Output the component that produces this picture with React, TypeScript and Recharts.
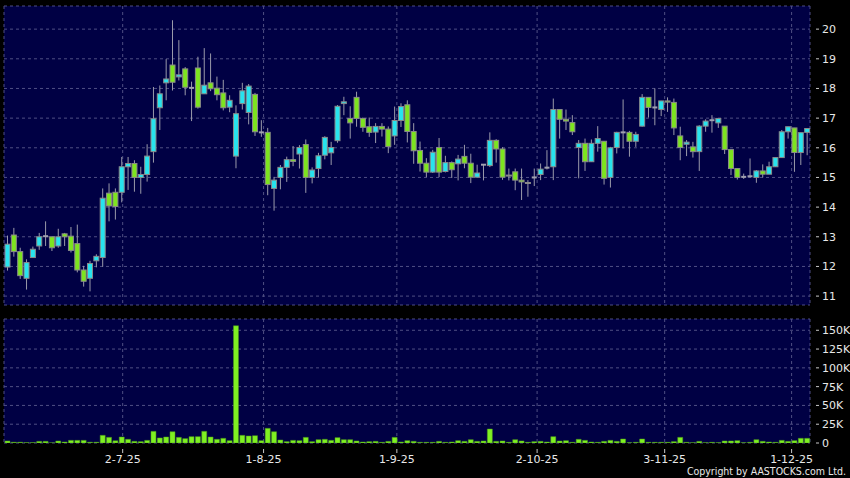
import { ComposedChart, Bar, XAxis, YAxis, CartesianGrid } from 'recharts'

// price data, one entry per trading day (Jun 5 - Dec 3 2025)
const opens = [
  11.98, 13.06, 12.5, 11.6, 12.3, 12.69, 13.02, 13.0, 12.69, 13.1, 13.02, 12.77, 11.88, 11.6, 12.19, 12.3, 14.47, 14.5, 14.5, 15.36,
  15.47, 15.0, 15.1, 15.87, 17.35, 18.19, 18.79, 18.39, 18.66, 18.02, 18.69, 17.82, 18.19, 18.01, 17.85, 17.37, 15.72, 17.49, 17.19, 17.8,
  16.52, 16.52, 14.63, 15.0, 15.34, 15.6, 15.79, 16.11, 15.0, 15.3, 15.75, 15.83, 16.24, 17.49, 16.99, 17.7, 16.99, 16.71, 16.53, 16.72,
  16.63, 16.4, 16.92, 17.45, 16.55, 15.91, 15.48, 15.18, 16.01, 15.2, 15.5, 15.46, 15.71, 15.48, 15.01, 15.43, 15.4, 16.25, 15.96, 15.08,
  15.19, 14.91, 14.83, 15.0, 15.1, 15.33, 15.36, 17.29, 16.96, 16.85, 16.01, 16.15, 15.53, 16.15, 16.22, 15.0, 16.01, 16.52, 16.52, 16.22,
  16.73, 17.7, 17.36, 17.29, 17.58, 17.53, 16.4, 16.12, 16.03, 15.87, 16.73, 16.93, 16.84, 16.73, 15.94, 15.3, 15.02, 15.04, 15.0, 15.22,
  15.11, 15.36, 15.67, 16.54, 16.67, 15.84, 16.52,
]
const highs = [
  13.04, 13.3, 12.63, 12.24, 12.67, 13.13, 13.52, 13.0, 13.27, 13.13, 13.33, 13.41, 12.02, 12.19, 12.41, 14.63, 14.8, 14.63, 15.69, 15.69,
  15.58, 15.36, 16.12, 18.05, 18.1, 18.99, 20.3, 19.63, 18.72, 18.23, 19.07, 19.36, 19.18, 18.4, 18.29, 17.77, 17.43, 18.19, 18.15, 17.85,
  16.93, 16.67, 15.02, 15.42, 15.7, 16.06, 16.09, 16.28, 15.34, 15.83, 16.39, 16.2, 17.44, 17.72, 17.4, 17.89, 17.02, 17.02, 16.83, 16.83,
  16.72, 17.39, 17.5, 17.6, 16.83, 16.21, 15.65, 15.93, 16.33, 15.73, 15.54, 15.76, 16.1, 15.8, 15.43, 15.45, 16.52, 16.29, 16.02, 15.3,
  15.3, 15.3, 14.91, 15.3, 15.47, 15.92, 17.66, 17.29, 17.29, 17.1, 16.26, 16.31, 16.28, 16.73, 16.22, 16.03, 16.54, 17.63, 16.57, 16.54,
  17.81, 17.7, 18.0, 17.58, 17.7, 17.66, 16.71, 16.26, 16.2, 16.76, 16.96, 17.1, 16.99, 16.73, 15.94, 15.3, 15.13, 15.64, 15.25, 15.44,
  15.53, 15.67, 16.6, 16.71, 16.67, 16.51, 16.65,
]
const lows = [
  11.86, 12.33, 11.58, 11.22, 12.3, 12.56, 12.69, 12.52, 12.63, 12.69, 12.47, 11.8, 11.32, 11.16, 11.97, 11.99, 13.52, 13.58, 14.16, 14.58,
  14.52, 14.45, 14.86, 15.5, 16.6, 17.6, 17.93, 18.27, 17.77, 16.9, 17.32, 17.82, 17.91, 17.6, 17.26, 17.2, 15.31, 17.29, 16.79, 16.4,
  16.37, 14.4, 13.88, 14.6, 14.85, 15.38, 15.3, 14.48, 14.8, 15.0, 15.61, 15.42, 16.17, 17.1, 16.31, 16.71, 16.54, 16.37, 16.16, 16.38,
  15.82, 16.1, 16.7, 16.18, 15.46, 15.2, 15.01, 15.15, 15.01, 15.17, 14.98, 14.9, 15.31, 14.81, 14.98, 14.9, 15.35, 15.5, 14.92, 14.9,
  14.57, 14.24, 14.35, 14.71, 14.91, 15.27, 14.91, 16.31, 16.6, 16.43, 14.97, 15.22, 15.53, 15.87, 14.76, 14.66, 15.81, 15.98, 15.7, 16.03,
  16.71, 17.02, 16.76, 17.07, 17.21, 16.43, 15.58, 15.72, 15.67, 15.22, 16.54, 16.51, 16.67, 15.79, 15.08, 14.93, 14.95, 15.0, 14.82, 15.0,
  15.11, 15.36, 15.67, 16.31, 15.19, 15.42, 15.75,
]
const closes = [
  12.75, 12.5, 11.69, 12.13, 12.58, 13.0, 13.02, 12.63, 13.0, 13.0, 12.54, 11.88, 11.5, 12.1, 12.34, 14.3, 14.04, 14.02, 15.36, 15.47,
  15.0, 15.1, 15.72, 16.98, 17.82, 18.32, 18.21, 18.46, 18.04, 18.02, 17.37, 18.11, 17.99, 17.79, 17.35, 17.6, 17.15, 17.92, 18.08, 16.54,
  16.52, 14.76, 14.91, 15.34, 15.6, 15.54, 16.01, 15.0, 15.25, 15.73, 16.35, 16.01, 17.4, 17.55, 16.84, 16.99, 16.69, 16.52, 16.72, 16.63,
  16.04, 16.92, 17.39, 16.55, 15.9, 15.48, 15.18, 15.85, 15.18, 15.5, 15.26, 15.62, 15.48, 15.01, 15.15, 15.43, 16.25, 15.96, 15.01, 15.05,
  14.91, 14.85, 14.8, 15.0, 15.28, 15.33, 17.29, 16.96, 16.9, 16.54, 16.15, 15.53, 16.15, 16.31, 14.97, 16.0, 16.52, 16.52, 16.22, 16.45,
  17.7, 17.36, 17.36, 17.58, 17.54, 16.67, 16.01, 16.19, 15.87, 16.73, 16.9, 16.93, 16.99, 15.94, 15.3, 15.0, 15.02, 15.04, 15.22, 15.11,
  15.36, 15.67, 16.54, 16.71, 15.84, 16.51, 16.65,
]
// volume in thousands of shares
const volumesK = [
  2.7, 1, 1, 0.5, 0.5, 2.2, 2.2, 0.2, 2.7, 1.3, 3.5, 3.5, 3.5, 1, 1, 10.2, 7.5, 3, 8, 4.9,
  2.2, 1.8, 3.5, 15.5, 6.7, 8, 15, 7.5, 5.8, 8.4, 8.4, 15.5, 8, 4.9, 6.2, 3.1, 156, 10.2, 9.3, 9.8,
  3.1, 19.5, 15, 4, 1.8, 3.5, 3.1, 7.5, 1.8, 4.4, 4.9, 3.5, 7.1, 4.4, 4.4, 2.7, 1.3, 1.8, 2.2, 0.9,
  2.2, 7.5, 1.3, 3.1, 2.2, 0.9, 0.9, 0.9, 2.2, 0.9, 1.3, 3.1, 2.2, 4.4, 2.2, 2.7, 18.6, 2.2, 2.7, 0.9,
  4.4, 2.7, 0.9, 1.8, 2.2, 1.3, 8.4, 2.7, 3.1, 0.9, 4.9, 3.5, 1.3, 0.9, 2.2, 3.5, 2.2, 5.3, 0.4, 0.9,
  5.3, 0.9, 0.9, 0.9, 0.9, 1.8, 7.5, 0.9, 0.4, 2.2, 0.4, 0.9, 0.4, 2.7, 2.7, 3.1, 0.4, 0.9, 4.4, 2.2,
  1.3, 0.9, 3.5, 2.2, 3.1, 6.2, 6.2,
]

const dateTicks = [18.2, 40.4, 61.4, 83.5, 103.6, 123.6]
const dateLabels = ['2-7-25', '1-8-25', '1-9-25', '2-10-25', '3-11-25', '1-12-25']
const priceTicks = [11, 12, 13, 14, 15, 16, 17, 18, 19, 20]
const volTicks = [0, 25000, 50000, 75000, 100000, 125000, 150000]

const data = opens.map((o, i) => ({
  i,
  open: o,
  high: highs[i],
  low: lows[i],
  close: closes[i],
  vol: volumesK[i] * 1000,
}))

const UP = '#27e3ee'
const DOWN = '#7de41f'
const GRID = '#4f4f84'
const FONT = 'DejaVu Sans'

function Candle(props: any) {
  const { x, y, width, height, payload } = props
  const { open, close, high, low } = payload
  const ratio = height / (high - low)
  const yOf = (v: number) => y + (high - v) * ratio
  const cx = x + width / 2
  const top = yOf(Math.max(open, close))
  const bot = yOf(Math.min(open, close))
  return (
    <g>
      <line x1={cx} x2={cx} y1={y} y2={y + height} stroke="#9a9aaa" strokeWidth={1} />
      {open === close ? (
        <line x1={x} x2={x + width} y1={top} y2={top} stroke="#a0a0ae" strokeWidth={2} />
      ) : (
        <rect x={x} y={top} width={width} height={Math.max(bot - top, 1)} fill={close > open ? UP : DOWN} stroke="#8a8a8a" strokeWidth={1} />
      )}
    </g>
  )
}

function YTick(props: any) {
  const { x, y, payload, fmt } = props
  return (
    <g>
      <line x1={x + 4} x2={x + 7} y1={y} y2={y} stroke="#c8c8c8" />
      <text x={x + 10} y={y} dy="0.36em" fill="#e8e8e8" fontSize={11} fontFamily={FONT}>
        {fmt ? fmt(payload.value) : payload.value}
      </text>
    </g>
  )
}

function XTick(props: any) {
  const { x, y, payload } = props
  const label = dateLabels[dateTicks.indexOf(payload.value)]
  return (
    <g>
      <line x1={x} x2={x} y1={y + 4} y2={y + 8} stroke="#c8c8c8" />
      <text x={x} y={y + 14} dy="0.36em" textAnchor="middle" fill="#e8e8e8" fontSize={11} fontFamily={FONT}>
        {label}
      </text>
    </g>
  )
}

const volFmt = (v: number) => (v === 0 ? '0' : `${v / 1000}K`)

export default function App() {
  return (
    <div style={{ position: 'absolute', left: 0, top: 0, width: 850, height: 478, background: '#000', overflow: 'hidden' }}>
      <div style={{ position: 'absolute', left: 0, top: 0 }}>
        <ComposedChart width={850} height={310} data={data} margin={{ top: 6, right: 4, bottom: 5, left: 4 }}>
          <CartesianGrid fill="#000044" stroke={GRID} strokeDasharray="3 3" />
          <XAxis dataKey="i" type="number" domain={[-0.5, 126.5]} ticks={dateTicks} interval={0} hide />
          <YAxis
            orientation="right"
            type="number"
            domain={[10.7, 20.78]}
            ticks={priceTicks}
            interval={0}
            allowDataOverflow
            width={36}
            axisLine={false}
            tickLine={false}
            tickSize={0}
            tick={<YTick />}
          />
          <Bar dataKey={(d: any) => [d.low, d.high]} barSize={5} shape={<Candle />} isAnimationActive={false} />
        </ComposedChart>
      </div>
      <div style={{ position: 'absolute', left: 0, top: 310 }}>
        <ComposedChart width={850} height={160} data={data} margin={{ top: 9, right: 4, bottom: 0, left: 4 }}>
          <CartesianGrid fill="#000044" stroke={GRID} strokeDasharray="3 3" />
          <XAxis
            dataKey="i"
            type="number"
            domain={[-0.5, 126.5]}
            ticks={dateTicks}
            interval={0}
            height={27}
            axisLine={false}
            tickLine={false}
            tickSize={0}
            tick={<XTick />}
          />
          <YAxis
            orientation="right"
            type="number"
            domain={[0, 165000]}
            ticks={volTicks}
            interval={0}
            allowDataOverflow
            width={36}
            axisLine={false}
            tickLine={false}
            tickSize={0}
            tick={<YTick fmt={volFmt} />}
          />
          <Bar dataKey="vol" barSize={5} fill="#7ff022" stroke="#4c9a18" strokeWidth={0.5} isAnimationActive={false} />
        </ComposedChart>
      </div>
      <div
        style={{
          position: 'absolute',
          right: 4,
          top: 465,
          fontFamily: 'DejaVu Sans Condensed',
          fontSize: 10.5,
          lineHeight: '12px',
          color: '#e8e8e8',
        }}
      >
        Copyright by AASTOCKS.com Ltd.
      </div>
    </div>
  )
}
